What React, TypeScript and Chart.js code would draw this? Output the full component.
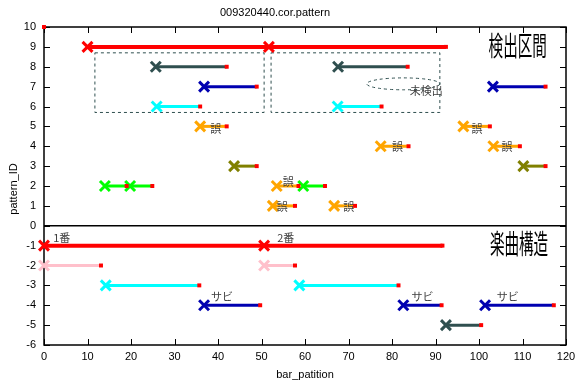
import React, { useEffect, useRef } from 'react';
import { Chart, registerables } from 'chart.js';
Chart.register(...registerables);

const TITLE = '009320440.cor.pattern';
const X_TITLE = 'bar_patition';
const Y_TITLE = 'pattern_ID';

const xTicks = [0, 10, 20, 30, 40, 50, 60, 70, 80, 90, 100, 110, 120];
const yTicks = [-6, -5, -4, -3, -2, -1, 0, 1, 2, 3, 4, 5, 6, 7, 8, 9, 10];

// one entry per segment: series, start bar, end bar, pattern id
const segSeries = [
  'red', 'red', 'slate', 'slate', 'blue', 'blue', 'cyan', 'cyan',
  'orange', 'orange', 'orange', 'orange', 'olive', 'olive',
  'green', 'green', 'orange', 'green', 'orange', 'orange',
  'red', 'red', 'pink', 'pink', 'cyan', 'cyan', 'blue', 'blue', 'blue', 'slate',
];
const segStart = [
  10, 51.7, 25.7, 67.6, 36.8, 103.2, 25.9, 67.5,
  35.9, 96.4, 77.4, 103.3, 43.7, 110.2,
  14, 19.8, 53.5, 59.6, 52.6, 66.7,
  0, 50.6, 0, 50.6, 14.2, 58.7, 36.8, 82.6, 101.4, 92.4,
];
const segEnd = [
  51.7, 92.4, 42, 83.6, 48.9, 115.3, 35.9, 77.6,
  42, 102.5, 83.8, 109.4, 48.9, 115.3,
  19, 24.9, 58.5, 64.6, 57.7, 71.5,
  50.6, 91.6, 13.1, 57.7, 35.7, 81.5, 49.7, 91.4, 117.2, 100.5,
];
const segId = [
  9, 9, 8, 8, 7, 7, 6, 6,
  5, 5, 4, 4, 3, 3,
  2, 2, 2, 2, 1, 1,
  -1, -1, -2, -2, -3, -3, -4, -4, -4, -5,
];

const palette: Record<string, string> = {
  red: '#ff0000',
  slate: '#2f4f4f',
  blue: '#0000b0',
  cyan: '#00ffff',
  orange: '#ffa500',
  olive: '#808000',
  green: '#00ff00',
  pink: '#ffc0cb',
};

const cornerX = [0];
const cornerY = [10];

const noteText = ['誤', '誤', '誤', '誤', '誤', '誤', '誤', 'サビ', 'サビ', 'サビ', '1番', '2番', '未検出'];
const noteX = [38.2, 98.3, 80.0, 105.2, 54.9, 53.5, 68.8, 38.4, 84.5, 104.1, 2.1, 53.6, 84.1];
const noteY = [4.9, 4.87, 3.99, 3.99, 2.2, 0.94, 0.94, -3.59, -3.59, -3.59, -0.6, -0.6, 6.79];

const boxX0 = [11.7, 52.2];
const boxX1 = [50.6, 91.0];
const boxY0 = [5.7, 5.7];
const boxY1 = [8.7, 8.7];

const ellipseX = [82.6];
const ellipseY = [7.14];
const ellipseRX = [8.4];
const ellipseRY = [0.3];

const sectionText = ['検出区間', '楽曲構造'];
const sectionX = [102.2, 102.5];
const sectionY = [9.06, -0.9];

export default function App() {
  const ref = useRef<HTMLCanvasElement>(null);

  useEffect(() => {
    const canvas = ref.current;
    if (!canvas) return;

    const datasets: any[] = segStart.map((s, i) => {
      const c = palette[segSeries[i]];
      return {
        data: [
          { x: s, y: segId[i] },
          { x: segEnd[i], y: segId[i] },
        ],
        showLine: true,
        borderColor: c,
        borderWidth: segSeries[i] === 'red' ? 4 : 3,
        pointStyle: ['crossRot', 'rect'],
        pointRadius: [7, 2.8],
        pointHoverRadius: [7, 2.8],
        pointBorderWidth: [3, 0],
        pointBorderColor: [c, '#ff0000'],
        pointBackgroundColor: [c, '#ff0000'],
        clip: false,
      };
    });
    datasets.unshift({
      data: cornerX.map((x, i) => ({ x, y: cornerY[i] })),
      showLine: false,
      pointStyle: 'rect',
      pointRadius: 2.8,
      pointBorderWidth: 0,
      pointBackgroundColor: '#ff0000',
      clip: false,
    });

    const frame = {
      id: 'frame',
      beforeDatasetsDraw(chart: any) {
        const { ctx, chartArea: a, scales } = chart;
        const xs = scales.x;
        const ys = scales.y;
        ctx.save();
        ctx.strokeStyle = '#000';
        ctx.lineWidth = 1;
        ctx.beginPath();
        xTicks.forEach((t) => {
          const px = Math.round(xs.getPixelForValue(t)) + 0.5;
          ctx.moveTo(px, a.bottom);
          ctx.lineTo(px, a.bottom - 6);
          ctx.moveTo(px, a.top);
          ctx.lineTo(px, a.top + 6);
        });
        yTicks.forEach((t) => {
          const py = Math.round(ys.getPixelForValue(t)) + 0.5;
          ctx.moveTo(a.left, py);
          ctx.lineTo(a.left + 6, py);
          ctx.moveTo(a.right, py);
          ctx.lineTo(a.right - 6, py);
        });
        ctx.stroke();
        ctx.lineWidth = 1.5;
        ctx.strokeRect(a.left, a.top, a.right - a.left, a.bottom - a.top);
        const y0 = ys.getPixelForValue(0);
        ctx.beginPath();
        ctx.moveTo(a.left, y0);
        ctx.lineTo(a.right, y0);
        ctx.stroke();

        // dashed boxes
        ctx.strokeStyle = '#2f4f4f';
        ctx.lineWidth = 1;
        ctx.setLineDash([3, 3]);
        boxX0.forEach((bx, i) => {
          const l = xs.getPixelForValue(bx);
          const r = xs.getPixelForValue(boxX1[i]);
          const t = ys.getPixelForValue(boxY1[i]);
          const b = ys.getPixelForValue(boxY0[i]);
          ctx.strokeRect(l, t, r - l, b - t);
        });
        ellipseX.forEach((ex, i) => {
          const cx = xs.getPixelForValue(ex);
          const cy = ys.getPixelForValue(ellipseY[i]);
          const rx = xs.getPixelForValue(ex + ellipseRX[i]) - cx;
          const ry = cy - ys.getPixelForValue(ellipseY[i] + ellipseRY[i]);
          ctx.beginPath();
          ctx.ellipse(cx, cy, rx, ry, 0, 0, Math.PI * 2);
          ctx.stroke();
        });
        ctx.setLineDash([]);
        ctx.restore();
      },
      afterDatasetsDraw(chart: any) {
        const { ctx, chartArea: a, scales } = chart;
        const xs = scales.x;
        const ys = scales.y;
        ctx.save();
        ctx.fillStyle = '#404040';
        ctx.textBaseline = 'middle';
        ctx.textAlign = 'left';
        ctx.font = '11px "Noto Sans CJK JP"';
        noteText.forEach((t, i) => {
          ctx.fillText(t, xs.getPixelForValue(noteX[i]), ys.getPixelForValue(noteY[i]));
        });
        ctx.fillStyle = '#000';
        sectionText.forEach((t, i) => {
          ctx.save();
          ctx.translate(xs.getPixelForValue(sectionX[i]), ys.getPixelForValue(sectionY[i]));
          ctx.scale(0.54, 1);
          ctx.font = '27px "Noto Sans CJK JP"';
          ctx.fillText(t, 0, 0);
          ctx.restore();
        });
        ctx.font = '11px "Liberation Sans"';
        ctx.fillStyle = '#000';
        ctx.textAlign = 'center';
        ctx.fillText(TITLE, 275, 13);
        ctx.fillText(X_TITLE, (a.left + a.right) / 2, 375);
        ctx.save();
        ctx.translate(14, (a.top + a.bottom) / 2 + 3);
        ctx.rotate(-Math.PI / 2);
        ctx.fillText(Y_TITLE, 0, 0);
        ctx.restore();
        ctx.restore();
      },
    };

    const chart = new Chart(canvas, {
      type: 'scatter',
      data: { datasets },
      options: {
        responsive: false,
        animation: false,
        devicePixelRatio: 1,
        layout: { padding: { top: 27, right: 10, left: 0, bottom: 0 } },
        plugins: {
          legend: { display: false },
          tooltip: { enabled: false },
          title: { display: false },
        },
        scales: {
          x: {
            type: 'linear',
            min: 0,
            max: 120,
            ticks: {
              stepSize: 10,
              color: '#000',
              padding: 5,
              maxRotation: 0,
              font: { family: 'Liberation Sans', size: 11 },
            },
            grid: { display: false, drawTicks: false },
            border: { display: false },
            afterFit: (s: any) => {
              s.height = 41;
              s.paddingLeft = 0;
              s.paddingRight = 0;
            },
          },
          y: {
            type: 'linear',
            min: -6,
            max: 10,
            ticks: {
              stepSize: 1,
              color: '#000',
              padding: 8,
              font: { family: 'Liberation Sans', size: 11 },
            },
            grid: { display: false, drawTicks: false },
            border: { display: false },
            afterFit: (s: any) => {
              s.width = 44;
              s.paddingTop = 0;
              s.paddingBottom = 0;
            },
          },
        },
      } as any,
      plugins: [frame],
    });
    return () => chart.destroy();
  }, []);

  return (
    <div style={{ position: 'fixed', left: 0, top: 0, width: 576, height: 386, background: '#fff' }}>
      <canvas ref={ref} width={576} height={386} />
    </div>
  );
}
